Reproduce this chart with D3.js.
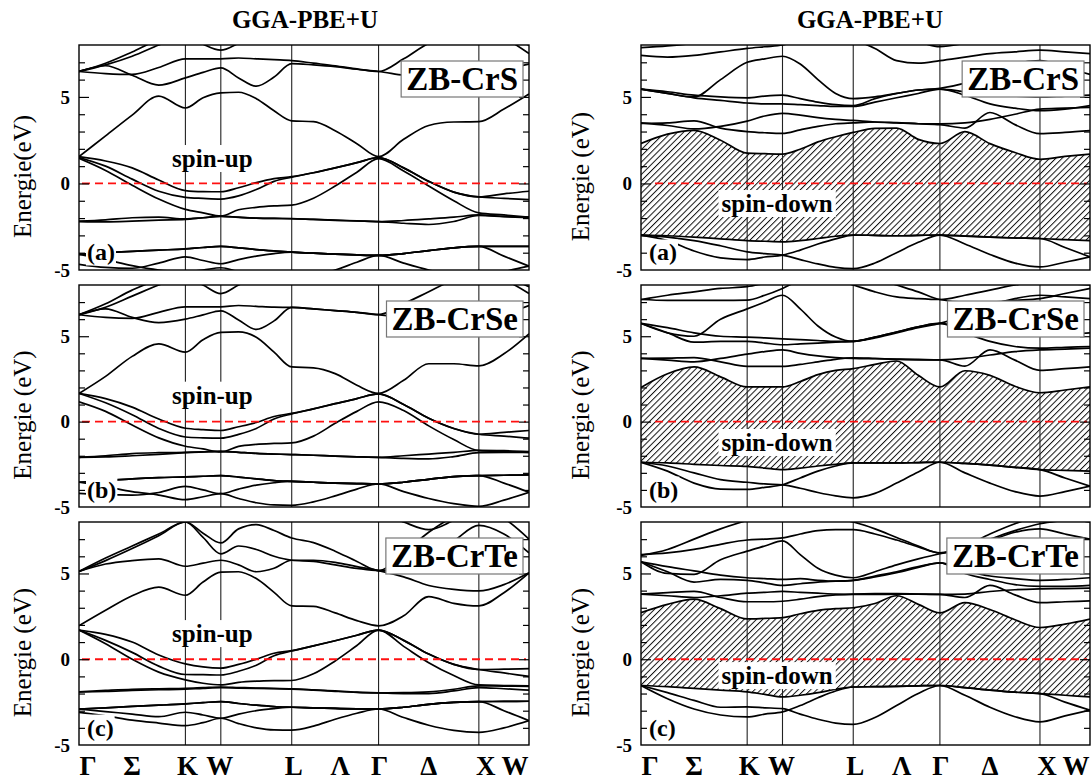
<!DOCTYPE html>
<html>
<head>
<meta charset="utf-8">
<script src="https://cdn.jsdelivr.net/npm/d3@7"></script>
<style>
  body { margin: 0; background: #fff; }
  svg { display: block; }
</style>
</head>
<body>
<div id="container"></div>
<script>
// k-path sample points (units of 2pi/a) along G-K-W-L-G-X-W
const kGrid = [0, 0.265, 0.530, 0.795, 1.061, 1.237, 1.414, 1.591, 1.768, 1.945, 2.121,
               2.338, 2.554, 2.771, 2.987, 3.237, 3.487, 3.737, 3.987, 4.237, 4.487];
const kSym = [0, 1.061, 1.414, 2.121, 2.987, 3.987, 4.487];
const kLabels = ['Γ', 'Σ', 'K', 'W', 'L', 'Λ', 'Γ', 'Δ', 'X', 'W'];
const kLabelAt = [0, 0.53, 1.061, 1.414, 2.121, 2.554, 2.987, 3.487, 3.987, 4.487];
const yTickLabels = [5, 0, -5];

// ---- spin-up bands (eV) ----
const upCrS = [
  [1.55, 2.75, 3.95, 5.05, 4.36, 4.95, 5.23, 5.27, 4.9, 4.2, 3.62, 3.57, 3.05, 2.3, 1.55, 2.55, 3.35, 3.55, 3.57, 4.3, 5.17],
  [1.55, 1.3, 0.9, 0.2, -0.41, -0.47, -0.48, -0.25, 0.05, 0.28, 0.39, 0.62, 0.9, 1.2, 1.5, 0.9, 0.12, -0.5, -0.78, -0.6, -0.45],
  [1.5, 1.0, 0.25, -0.45, -0.8, -0.86, -0.9, -0.72, -0.35, 0.12, 0.36, 0.62, 0.9, 1.2, 1.5, 0.9, 0.12, -0.5, -0.78, -0.86, -0.93],
  [1.45, 0.75, -0.1, -0.9, -1.5, -1.7, -1.89, -1.52, -1.38, -1.3, -1.25, -0.85, -0.15, 0.65, 1.43, 0.72, -0.15, -1.0, -1.7, -1.82, -1.95],
  [-2.18, -2.1, -1.98, -1.95, -2.05, -1.98, -1.89, -1.95, -2.0, -2.02, -2.03, -2.08, -2.12, -2.16, -2.2, -2.14, -2.05, -1.95, -1.82, -1.9, -1.95],
  [-2.2, -2.22, -2.18, -2.12, -2.08, -1.98, -1.9, -1.96, -2.0, -2.02, -2.04, -2.08, -2.13, -2.17, -2.2, -2.3, -2.37, -2.2, -1.85, -1.92, -1.97],
  [-4.1, -4.0, -3.92, -3.85, -3.78, -3.7, -3.64, -3.72, -3.82, -3.9, -3.97, -4.03, -4.08, -4.13, -4.16, -4.05, -3.88, -3.72, -3.64, -3.64, -3.64],
  [-4.1, -4.0, -3.92, -3.85, -3.78, -3.7, -3.64, -3.72, -3.82, -3.9, -3.97, -4.03, -4.08, -4.13, -4.16, -4.05, -3.88, -3.72, -3.64, -4.2, -4.78],
  [-4.67, -4.85, -4.9, -4.6, -4.24, -4.45, -4.64, -4.4, -4.2, -4.05, -3.97, -4.03, -4.08, -4.13, -4.16, -4.05, -3.88, -3.72, -3.64, -3.64, -3.64],
  [-4.1, -4.4, -4.75, -5.0, -5.1, -5.0, -4.87, -5.1, -5.3, -5.45, -5.5, -5.3, -5.0, -4.55, -4.16, -4.6, -5.0, -5.3, -5.45, -5.1, -4.78],
  [6.47, 6.8, 6.25, 5.68, 6.1, 6.42, 6.68, 6.1, 5.62, 6.15, 6.92, 6.85, 6.75, 6.6, 6.47, 6.25, 6.1, 6.15, 6.3, 6.6, 6.9],
  [6.47, 6.35, 6.3, 6.7, 7.2, 7.2, 7.2, 7.25, 7.2, 7.15, 7.1, 6.95, 6.8, 6.62, 6.47, 7.2, 8.1, 8.6, 8.8, 8.4, 7.5],
  [6.47, 6.85, 7.35, 8.0, 8.6, 8.8, 8.8, 8.8, 8.8, 8.8, 8.8, 8.8, 8.8, 8.6, 8.3, 8.5, 8.8, 8.8, 8.8, 8.5, 8.0],
  [6.47, 6.95, 7.6, 8.3, 8.6, 8.05, 7.7, 8.1, 8.6, 8.8, 8.8, 8.8, 8.8, 8.8, 8.8, 8.8, 8.8, 8.8, 8.8, 8.8, 8.8]
];

const upCrSe = [
  [1.65, 2.65, 3.82, 4.55, 4.07, 4.8, 5.23, 5.25, 4.94, 4.07, 3.2, 3.15, 2.81, 2.13, 1.65, 2.42, 3.39, 3.39, 3.26, 3.97, 5.14],
  [1.65, 1.35, 0.85, 0.15, -0.39, -0.47, -0.52, -0.3, -0.05, 0.3, 0.48, 0.75, 1.05, 1.35, 1.62, 1.0, 0.2, -0.4, -0.74, -0.63, -0.52],
  [1.65, 1.1, 0.4, -0.4, -0.9, -0.95, -0.97, -0.75, -0.4, 0.15, 0.45, 0.75, 1.05, 1.35, 1.62, 1.0, 0.2, -0.4, -0.74, -0.85, -0.97],
  [1.16, 0.6, -0.2, -0.95, -1.44, -1.6, -1.78, -1.45, -1.33, -1.28, -1.25, -0.85, -0.1, 0.6, 1.16, 0.65, -0.25, -1.05, -1.7, -1.75, -1.8],
  [-2.09, -2.0, -1.87, -1.82, -1.8, -1.77, -1.74, -1.8, -1.86, -1.9, -1.93, -1.97, -2.02, -2.06, -2.09, -2.0, -1.9, -1.8, -1.68, -1.7, -1.75],
  [-2.09, -2.07, -2.0, -1.92, -1.82, -1.77, -1.74, -1.8, -1.86, -1.9, -1.93, -1.97, -2.02, -2.06, -2.09, -2.15, -2.18, -2.05, -1.82, -1.8, -1.8],
  [-3.55, -3.45, -3.35, -3.28, -3.24, -3.2, -3.16, -3.25, -3.35, -3.45, -3.5, -3.55, -3.6, -3.63, -3.65, -3.55, -3.38, -3.22, -3.16, -3.14, -3.12],
  [-3.55, -3.45, -3.35, -3.28, -3.24, -3.2, -3.16, -3.25, -3.35, -3.45, -3.5, -3.55, -3.6, -3.63, -3.65, -3.55, -3.38, -3.22, -3.16, -3.6, -4.14],
  [-4.2, -4.28, -4.3, -4.15, -3.79, -4.0, -4.22, -3.95, -3.72, -3.58, -3.5, -3.55, -3.6, -3.63, -3.65, -3.55, -3.38, -3.22, -3.16, -3.14, -3.12],
  [-3.55, -3.8, -4.1, -4.3, -4.57, -4.4, -4.22, -4.5, -4.75, -4.88, -4.9, -4.7, -4.35, -3.95, -3.65, -4.1, -4.5, -4.8, -4.96, -4.6, -4.14],
  [6.26, 6.6, 6.1, 5.8, 6.0, 6.25, 6.49, 5.95, 5.4, 5.9, 6.69, 6.6, 6.5, 6.4, 6.26, 6.1, 5.95, 5.9, 6.0, 6.3, 6.8],
  [6.26, 6.1, 6.05, 6.4, 6.72, 6.72, 6.72, 6.8, 6.75, 6.7, 6.69, 6.6, 6.5, 6.4, 6.26, 6.9, 7.6, 8.3, 8.6, 8.3, 7.5],
  [6.26, 6.7, 7.35, 8.0, 8.6, 8.8, 8.8, 8.8, 8.8, 8.8, 8.8, 8.8, 8.8, 8.6, 8.3, 8.5, 8.8, 8.8, 8.8, 8.5, 7.9],
  [6.26, 6.9, 7.7, 8.3, 8.5, 8.0, 7.5, 8.0, 8.5, 8.8, 8.8, 8.8, 8.8, 8.8, 8.8, 8.8, 8.8, 8.8, 8.8, 8.8, 8.8]
];

const upCrTe = [
  [1.95, 2.85, 3.7, 4.2, 3.73, 4.5, 5.08, 5.1, 4.7, 3.9, 3.11, 3.08, 2.7, 2.25, 1.95, 2.53, 3.65, 3.26, 3.11, 3.88, 5.04],
  [5.12, 5.55, 5.75, 5.85, 5.42, 5.6, 5.77, 5.5, 5.1, 5.3, 5.77, 5.77, 5.65, 5.4, 5.17, 4.8, 4.3, 4.07, 3.98, 4.35, 5.04],
  [1.7, 1.45, 1.0, 0.25, -0.27, -0.45, -0.52, -0.3, 0.0, 0.35, 0.5, 0.78, 1.08, 1.4, 1.7, 1.1, 0.3, -0.3, -0.6, -0.58, -0.55],
  [1.7, 1.1, 0.4, -0.4, -0.89, -0.9, -0.92, -0.7, -0.35, 0.2, 0.48, 0.78, 1.08, 1.4, 1.7, 1.1, 0.3, -0.3, -0.6, -0.8, -1.0],
  [1.7, 0.9, 0.0, -0.75, -1.2, -1.4, -1.5, -1.35, -1.28, -1.25, -1.24, -0.85, -0.1, 0.8, 1.7, 0.75, -0.2, -0.95, -1.5, -1.53, -1.55],
  [-1.9, -1.82, -1.75, -1.72, -1.7, -1.66, -1.62, -1.65, -1.68, -1.7, -1.72, -1.78, -1.85, -1.92, -1.96, -1.95, -1.9, -1.75, -1.55, -1.57, -1.58],
  [-1.9, -1.88, -1.82, -1.78, -1.75, -1.7, -1.66, -1.68, -1.7, -1.72, -1.74, -1.8, -1.87, -1.93, -1.96, -2.0, -2.0, -1.85, -1.65, -1.72, -1.8],
  [-2.9, -2.83, -2.75, -2.68, -2.6, -2.53, -2.47, -2.58, -2.68, -2.76, -2.8, -2.84, -2.87, -2.89, -2.9, -2.8, -2.63, -2.52, -2.47, -2.46, -2.45],
  [-2.9, -2.83, -2.75, -2.68, -2.6, -2.53, -2.47, -2.58, -2.68, -2.76, -2.8, -2.84, -2.87, -2.89, -2.9, -2.8, -2.63, -2.52, -2.47, -3.0, -3.58],
  [-2.9, -3.05, -3.2, -3.35, -3.09, -3.25, -3.44, -3.2, -3.0, -2.88, -2.8, -2.84, -2.87, -2.89, -2.9, -2.8, -2.63, -2.52, -2.47, -2.46, -2.45],
  [-3.1, -3.3, -3.55, -3.72, -3.87, -3.7, -3.44, -3.75, -4.0, -4.12, -4.13, -3.9, -3.5, -3.15, -2.9, -3.4, -3.85, -4.15, -4.26, -4.0, -3.58],
  [5.12, 5.9, 6.6, 7.3, 8.0, 7.1, 6.14, 6.6, 6.4, 6.0, 5.77, 5.7, 5.5, 5.3, 5.17, 5.4, 6.0, 6.9, 7.8, 7.3, 6.2],
  [5.12, 5.75, 6.45, 7.2, 8.0, 7.35, 6.78, 7.6, 7.85, 7.5, 7.07, 6.8, 6.3, 5.7, 5.17, 6.2, 7.4, 8.3, 8.7, 8.2, 7.0],
  [8.8, 8.8, 8.8, 8.8, 8.8, 8.8, 8.8, 8.8, 8.8, 8.8, 8.8, 8.8, 8.8, 8.8, 8.6, 8.0, 7.55, 8.1, 8.8, 8.8, 8.8]
];

// ---- spin-down bands (eV); vbm / cbm bound the hatched gap ----
const dnCrS_vbm = [-2.98, -3.02, -3.1, -3.2, -3.3, -3.34, -3.37, -3.3, -3.18, -3.05, -2.98, -3.0, -3.02, -3.0, -2.98, -3.04, -3.1, -3.15, -3.18, -3.25, -3.3];
const dnCrS_cbm = [2.31, 2.85, 3.07, 2.5, 1.75, 1.72, 1.7, 1.98, 2.4, 2.7, 2.95, 3.18, 3.2, 2.55, 2.31, 2.99, 2.3, 1.79, 1.4, 1.56, 1.7];
const dnCrS = [
  dnCrS_vbm, dnCrS_cbm,
  [-2.98, -3.1, -3.3, -3.6, -3.95, -4.05, -4.14, -4.4, -4.65, -4.85, -4.92, -4.6, -4.0, -3.4, -2.98, -3.5, -4.1, -4.6, -4.82, -4.55, -4.24],
  [-2.98, -3.3, -3.9, -4.3, -4.4, -4.25, -4.14, -3.85, -3.5, -3.2, -2.98, -3.0, -3.02, -3.0, -2.98, -3.04, -3.1, -3.15, -3.18, -3.7, -4.24],
  [3.47, 3.5, 3.62, 3.2, 3.0, 2.93, 2.89, 3.1, 3.3, 3.45, 3.5, 3.55, 3.52, 3.45, 3.4, 3.2, 4.1, 3.4, 2.88, 2.95, 3.05],
  [3.5, 3.35, 3.15, 3.3, 3.6, 3.9, 4.05, 3.95, 3.8, 3.7, 3.64, 3.55, 3.5, 3.45, 3.44, 3.5, 3.7, 4.0, 4.3, 4.35, 4.4],
  [5.45, 5.2, 4.95, 4.8, 4.65, 4.6, 4.6, 4.55, 4.5, 4.45, 4.45, 4.7, 4.95, 5.2, 5.45, 5.1, 4.6, 4.35, 4.2, 4.3, 4.5],
  [5.45, 5.3, 5.1, 5.0, 4.95, 5.05, 5.1, 4.9, 4.7, 4.55, 4.5, 4.9, 5.2, 5.4, 5.45, 5.3, 5.15, 5.05, 5.0, 5.05, 5.1],
  [5.45, 5.2, 5.0, 6.0, 7.0, 7.2, 7.35, 6.9, 6.0, 5.2, 4.9, 5.0, 5.2, 5.4, 5.5, 5.8, 6.3, 6.9, 7.1, 6.7, 6.3],
  [7.4, 7.3, 7.4, 7.6, 7.8, 7.9, 8.0, 8.3, 8.6, 8.5, 8.3, 7.8, 7.1, 6.95, 7.1, 7.3, 7.5, 7.6, 7.7, 7.6, 7.5],
  [7.85, 7.95, 8.1, 8.3, 8.5, 8.7, 8.8, 8.8, 8.8, 8.8, 8.8, 8.8, 8.6, 8.2, 7.9, 8.1, 8.4, 8.6, 8.8, 8.8, 8.8]
];

const dnCrSe_vbm = [-2.38, -2.42, -2.5, -2.57, -2.62, -2.72, -2.81, -2.72, -2.6, -2.5, -2.42, -2.42, -2.42, -2.4, -2.38, -2.45, -2.55, -2.68, -2.81, -2.86, -2.9];
const dnCrSe_cbm = [2.0, 2.8, 3.2, 2.62, 2.03, 2.03, 2.03, 2.35, 2.75, 3.0, 3.1, 3.35, 3.55, 2.71, 2.03, 2.98, 2.71, 2.07, 1.69, 1.85, 2.03];
const dnCrSe = [
  dnCrSe_vbm, dnCrSe_cbm,
  [-2.38, -2.6, -3.0, -3.4, -3.55, -3.65, -3.7, -3.9, -4.15, -4.35, -4.46, -4.2, -3.6, -2.95, -2.38, -3.0, -3.6, -4.1, -4.36, -4.1, -3.78],
  [-2.38, -2.9, -3.6, -3.95, -3.97, -3.85, -3.7, -3.3, -2.9, -2.6, -2.42, -2.42, -2.42, -2.4, -2.38, -2.45, -2.55, -2.68, -2.81, -3.3, -3.78],
  [3.7, 3.72, 3.75, 3.5, 3.24, 3.24, 3.24, 3.35, 3.5, 3.65, 3.74, 3.7, 3.65, 3.62, 3.62, 3.25, 4.2, 3.6, 3.0, 3.1, 3.2],
  [3.7, 3.6, 3.5, 3.7, 3.95, 4.1, 4.2, 4.0, 3.85, 3.75, 3.7, 3.68, 3.66, 3.64, 3.62, 3.7, 3.9, 4.1, 4.2, 4.25, 4.3],
  [5.75, 5.2, 4.65, 4.7, 4.7, 4.6, 4.5, 4.55, 4.6, 4.65, 4.7, 4.95, 5.25, 5.55, 5.75, 5.2, 4.7, 4.4, 4.3, 4.35, 4.4],
  [5.75, 5.5, 5.2, 5.0, 4.95, 4.9, 4.85, 4.8, 4.75, 4.7, 4.7, 4.95, 5.25, 5.55, 5.75, 5.4, 5.1, 5.0, 5.0, 5.1, 5.2],
  [5.75, 5.2, 5.0, 6.0, 6.6, 7.0, 7.4, 6.6, 5.6, 4.95, 4.7, 4.9, 5.2, 5.5, 5.75, 6.2, 6.8, 7.2, 7.4, 7.3, 7.2],
  [7.15, 7.4, 7.6, 7.8, 7.9, 8.1, 8.3, 8.5, 8.5, 8.3, 8.0, 7.6, 7.3, 7.2, 7.15, 7.4, 7.7, 8.0, 8.2, 8.1, 8.0],
  [7.15, 7.1, 7.1, 7.1, 7.12, 7.4, 7.8, 8.3, 8.6, 8.6, 8.6, 8.4, 8.0, 7.6, 7.15, 7.0, 7.0, 7.1, 7.2, 7.5, 7.8]
];

const dnCrTe_vbm = [-1.53, -1.6, -1.7, -1.8, -1.9, -2.05, -2.2, -2.1, -1.95, -1.75, -1.62, -1.6, -1.58, -1.55, -1.53, -1.65, -1.8, -1.92, -2.0, -2.1, -2.2];
const dnCrTe_cbm = [2.72, 3.2, 3.5, 2.95, 2.35, 2.38, 2.42, 2.65, 2.85, 2.95, 3.0, 3.25, 3.7, 3.2, 2.7, 3.3, 2.9, 2.3, 1.85, 2.05, 2.34];
const dnCrTe = [
  dnCrTe_vbm, dnCrTe_cbm,
  [-1.53, -1.95, -2.4, -2.8, -2.78, -2.83, -2.88, -3.2, -3.5, -3.72, -3.8, -3.4, -2.7, -2.0, -1.53, -2.1, -2.8, -3.35, -3.65, -3.3, -2.97],
  [-1.53, -2.3, -2.9, -3.25, -3.36, -3.2, -3.07, -2.7, -2.25, -1.85, -1.62, -1.6, -1.58, -1.55, -1.53, -1.65, -1.8, -1.92, -2.0, -2.5, -2.97],
  [3.8, 3.88, 3.95, 3.6, 3.35, 3.35, 3.38, 3.5, 3.65, 3.75, 3.8, 3.82, 3.82, 3.8, 3.78, 3.6, 4.3, 3.75, 3.3, 3.35, 3.4],
  [3.8, 3.7, 3.6, 3.7, 3.85, 3.9, 3.95, 3.9, 3.85, 3.8, 3.78, 3.78, 3.79, 3.79, 3.78, 3.8, 3.95, 4.05, 4.1, 4.12, 4.15],
  [5.68, 5.1, 4.5, 4.65, 4.6, 4.45, 4.3, 4.4, 4.5, 4.55, 4.6, 4.8, 5.05, 5.35, 5.62, 5.0, 4.65, 4.35, 4.25, 4.25, 4.3],
  [5.68, 5.4, 5.15, 4.9, 4.75, 4.7, 4.65, 4.7, 4.6, 4.55, 4.6, 4.85, 5.1, 5.4, 5.62, 5.2, 4.85, 4.7, 4.6, 4.65, 4.75],
  [5.68, 5.0, 4.95, 5.8, 6.3, 6.6, 6.9, 6.1, 5.3, 4.9, 4.75, 5.1, 5.5, 5.85, 6.15, 6.4, 6.9, 7.4, 7.6, 7.3, 7.0],
  [6.05, 6.4, 7.0, 7.6, 8.1, 8.4, 8.5, 8.5, 8.4, 8.2, 8.0, 7.6, 7.1, 6.6, 6.2, 6.5, 7.0, 7.5, 7.9, 8.1, 8.2],
  [6.1, 6.2, 6.4, 6.7, 6.95, 7.0, 7.07, 7.3, 7.5, 7.55, 7.55, 7.3, 6.95, 6.55, 6.2, 6.6, 7.3, 7.9, 8.3, 8.2, 8.0]
];

const panels = [
  { col: 0, row: 0, bands: upCrS, name: 'ZB-CrS', spin: 'spin-up', spinE: 0.95, letter: '(a)', ylab: 'Energie(eV)' },
  { col: 1, row: 0, bands: dnCrS, vbm: dnCrS_vbm, cbm: dnCrS_cbm, name: 'ZB-CrS', spin: 'spin-down', spinE: -1.65, letter: '(a)', ylab: 'Energie (eV)' },
  { col: 0, row: 1, bands: upCrSe, name: 'ZB-CrSe', spin: 'spin-up', spinE: 1.05, letter: '(b)', ylab: 'Energie (eV)' },
  { col: 1, row: 1, bands: dnCrSe, vbm: dnCrSe_vbm, cbm: dnCrSe_cbm, name: 'ZB-CrSe', spin: 'spin-down', spinE: -1.72, letter: '(b)', ylab: 'Energie (eV)' },
  { col: 0, row: 2, bands: upCrTe, name: 'ZB-CrTe', spin: 'spin-up', spinE: 1.0, letter: '(c)', ylab: 'Energie (eV)' },
  { col: 1, row: 2, bands: dnCrTe, vbm: dnCrTe_vbm, cbm: dnCrTe_cbm, name: 'ZB-CrTe', spin: 'spin-down', spinE: -1.45, letter: '(c)', ylab: 'Energie (eV)' }
];

const cols = [{ x0: 79, x1: 529 }, { x0: 641, x1: 1090 }];
const rows = [{ y0: 45, y1: 270 }, { y0: 285, y1: 507 }, { y0: 522, y1: 745 }];
const serif = '"Liberation Serif", "Times New Roman", Times, serif';

const svg = d3.select('#container').append('svg')
  .attr('width', 1092)
  .attr('height', 780)
  .style('font-family', serif);

const defs = svg.append('defs');
defs.append('pattern')
  .attr('id', 'hatch')
  .attr('patternUnits', 'userSpaceOnUse')
  .attr('width', 4.4)
  .attr('height', 4.4)
  .attr('patternTransform', 'rotate(45)')
  .append('line')
  .attr('x1', 0.5).attr('y1', 0).attr('x2', 0.5).attr('y2', 4.4)
  .attr('stroke', '#111')
  .attr('stroke-width', 1.0);

// text with a white box behind it
function labelWithBg(g, x, y, txt, size, anchor, padX, padY) {
  const bg = g.append('rect').attr('fill', '#fff');
  const t = g.append('text')
    .attr('x', x).attr('y', y)
    .attr('text-anchor', anchor)
    .style('font-size', size + 'px')
    .style('font-weight', 'bold')
    .text(txt);
  const b = t.node().getBBox();
  bg.attr('x', b.x - padX).attr('y', b.y - padY)
    .attr('width', b.width + 2 * padX).attr('height', b.height + 2 * padY);
  return { bg, t };
}

panels.forEach((p, i) => {
  const c = cols[p.col], r = rows[p.row];
  const x = d3.scaleLinear().domain([0, 4.487]).range([c.x0, c.x1]);
  const y = d3.scaleLinear().domain([-5, 8]).range([r.y1, r.y0]);
  const g = svg.append('g');

  defs.append('clipPath').attr('id', 'clip' + i)
    .append('rect')
    .attr('x', c.x0).attr('y', r.y0)
    .attr('width', c.x1 - c.x0).attr('height', r.y1 - r.y0);

  const plot = g.append('g').attr('clip-path', `url(#clip${i})`);

  // hatched half-metallic gap
  if (p.vbm) {
    const area = d3.area()
      .x((d, j) => x(kGrid[j]))
      .y0((d, j) => y(p.vbm[j]))
      .y1((d, j) => y(p.cbm[j]))
      .curve(d3.curveMonotoneX);
    plot.append('path')
      .datum(kGrid)
      .attr('d', area)
      .attr('fill', 'url(#hatch)');
  }

  // high symmetry lines
  plot.selectAll('line.sym')
    .data(kSym.slice(1, -1))
    .enter().append('line')
    .attr('class', 'sym')
    .attr('x1', d => x(d)).attr('x2', d => x(d))
    .attr('y1', r.y0).attr('y2', r.y1)
    .attr('stroke', '#222')
    .attr('stroke-width', 1.1);

  const line = d3.line()
    .x((d, j) => x(kGrid[j]))
    .y(d => y(d))
    .curve(d3.curveMonotoneX);

  plot.selectAll('path.band')
    .data(p.bands)
    .enter().append('path')
    .attr('class', 'band')
    .attr('d', line)
    .attr('fill', 'none')
    .attr('stroke', '#000')
    .attr('stroke-width', 1.7);

  // Fermi level
  plot.append('line')
    .attr('x1', c.x0 + (p.col ? 14 : 3)).attr('x2', c.x1 - 3)
    .attr('y1', y(0)).attr('y2', y(0))
    .attr('stroke', '#ff1010')
    .attr('stroke-width', 1.8)
    .attr('stroke-dasharray', '8,5');

  // frame
  g.append('rect')
    .attr('x', c.x0).attr('y', r.y0)
    .attr('width', c.x1 - c.x0).attr('height', r.y1 - r.y0)
    .attr('fill', 'none')
    .attr('stroke', '#000')
    .attr('stroke-width', 1.4);

  // inward ticks on both sides
  const minor = d3.range(-4, 8).filter(v => v % 5 !== 0);
  const major = [5, 0];
  [[d3.axisLeft, c.x0], [d3.axisRight, c.x1]].forEach(([ax, xpos]) => {
    g.append('g')
      .attr('transform', `translate(${xpos},0)`)
      .call(ax(y).tickValues(minor).tickSize(-6).tickFormat(''))
      .call(s => s.select('.domain').remove())
      .call(s => s.selectAll('line').attr('stroke', '#000').attr('stroke-width', 1.2));
    g.append('g')
      .attr('transform', `translate(${xpos},0)`)
      .call(ax(y).tickValues(major).tickSize(-10).tickFormat(''))
      .call(s => s.select('.domain').remove())
      .call(s => s.selectAll('line').attr('stroke', '#000').attr('stroke-width', 1.2));
  });

  g.selectAll('text.ytick')
    .data(yTickLabels)
    .enter().append('text')
    .attr('class', 'ytick')
    .attr('x', c.x0 - 9)
    .attr('y', d => y(d))
    .attr('dy', '0.35em')
    .attr('text-anchor', 'end')
    .style('font-size', '19px')
    .style('font-weight', 'bold')
    .text(d => String(d));

  // axis title
  const ly = (r.y0 + r.y1) / 2 + 19;
  const lx = p.col ? 589 : 31;
  g.append('text')
    .attr('transform', `translate(${lx},${ly}) rotate(-90)`)
    .attr('text-anchor', 'middle')
    .style('font-size', '25px')
    .text(p.ylab);

  // compound box
  const box = labelWithBg(g, c.x1 - 11, r.y0 + 45, p.name, 33, 'end', 5, 0);
  box.bg.attr('stroke', '#777').attr('stroke-width', 1.2);

  // spin label and panel letter
  labelWithBg(g, x(p.col ? 1.36 : 1.33), y(p.spinE), p.spin, 25, 'middle', 3, 0);
  labelWithBg(g, c.x0 + 8, y(-4.45), p.letter, 24, 'start', 1, 0);

  // k-point labels under bottom row
  if (p.row === 2) {
    const shift = [9, 0, 2, -1, 2, 5, 1, 0, 7, -14];
    g.selectAll('text.klab')
      .data(kLabels)
      .enter().append('text')
      .attr('class', 'klab')
      .attr('x', (d, j) => x(kLabelAt[j]) + shift[j])
      .attr('y', 775)
      .attr('text-anchor', 'middle')
      .style('font-size', '27px')
      .style('font-weight', 'bold')
      .text(d => d);
  }
});

// column titles
svg.selectAll('text.title')
  .data([305, 870])
  .enter().append('text')
  .attr('class', 'title')
  .attr('x', d => d)
  .attr('y', 28)
  .attr('text-anchor', 'middle')
  .style('font-size', '25px')
  .style('font-weight', 'bold')
  .text('GGA-PBE+U');
</script>
</body>
</html>
